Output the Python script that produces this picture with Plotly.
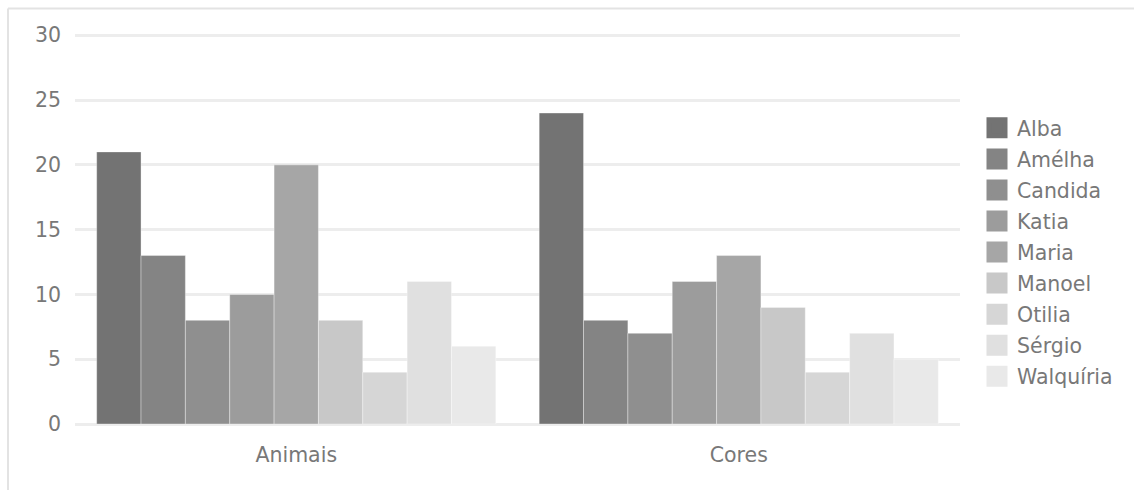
import plotly.graph_objects as go

# Survey results per person for each category
categories = ["Animais", "Cores"]
people = ["Alba", "Amélha", "Candida", "Katia", "Maria", "Manoel", "Otilia", "Sérgio", "Walquíria"]
animais = [21, 13, 8, 10, 20, 8, 4, 11, 6]
cores = [24, 8, 7, 11, 13, 9, 4, 7, 5]
y_ticks = [0, 5, 10, 15, 20, 25, 30]

# Grayscale palette, dark to light
colors = ["#737373", "#848484", "#8f8f8f", "#9c9c9c", "#a6a6a6",
          "#c8c8c8", "#d6d6d6", "#e0e0e0", "#e9e9e9"]

W, H = 1134, 490
M_L, M_R, M_T, M_B = 75, 174, 34, 66
plot_w = W - M_L - M_R
plot_h = H - M_T - M_B

font_family = "'DejaVu Sans', Verdana, sans-serif"
text_color = "#787878"

fig = go.Figure()
for i, name in enumerate(people):
    fig.add_trace(go.Bar(
        x=categories,
        y=[animais[i], cores[i]],
        name=name,
        showlegend=False,
        marker=dict(color=colors[i], line=dict(color="rgba(255,255,255,0.35)", width=1)),
    ))

# Legend entries with large square swatches
for i, name in enumerate(people):
    fig.add_trace(go.Scatter(
        x=[None], y=[None],
        mode="markers",
        name=name,
        legendgroup=name,
        marker=dict(symbol="square", size=16, color=colors[i],
                    line=dict(color=colors[i], width=5)),
        hoverinfo="skip",
    ))


def px_to_paper_x(px):
    return (px - M_L) / plot_w


def px_to_paper_y(py):
    return 1 - (py - M_T) / plot_h


fig.update_layout(
    width=W,
    height=H,
    margin=dict(l=M_L, r=M_R, t=M_T, b=M_B),
    paper_bgcolor="white",
    plot_bgcolor="white",
    barmode="group",
    bargap=0.098,
    bargroupgap=0,
    font=dict(family=font_family, size=20.5, color=text_color),
    xaxis=dict(
        showgrid=False,
        showline=False,
        ticks="",
        ticklabelstandoff=16,
        tickfont=dict(size=20.5, color=text_color),
    ),
    yaxis=dict(
        range=[0, 30.1],
        tickvals=y_ticks,
        showgrid=True,
        gridcolor="#ededed",
        gridwidth=3,
        zeroline=True,
        zerolinecolor="#ededed",
        zerolinewidth=3,
        showline=False,
        ticks="",
        ticklabelstandoff=13,
        tickfont=dict(size=20.5, color=text_color),
    ),
    legend=dict(
        x=px_to_paper_x(977),
        y=px_to_paper_y(108),
        xanchor="left",
        yanchor="top",
        font=dict(size=20.5, color=text_color),
        traceorder="grouped",
        tracegroupgap=1.4,
        itemwidth=30,
    ),
    shapes=[
        # chart frame: top and left edges
        dict(type="line", xref="paper", yref="paper",
             x0=px_to_paper_x(8), x1=px_to_paper_x(W), y0=px_to_paper_y(8.5), y1=px_to_paper_y(8.5),
             line=dict(color="#e3e3e3", width=2)),
        dict(type="line", xref="paper", yref="paper",
             x0=px_to_paper_x(8), x1=px_to_paper_x(8), y0=px_to_paper_y(H), y1=px_to_paper_y(8.5),
             line=dict(color="#e3e3e3", width=2)),
    ],
)

fig.write_html("out.html")
